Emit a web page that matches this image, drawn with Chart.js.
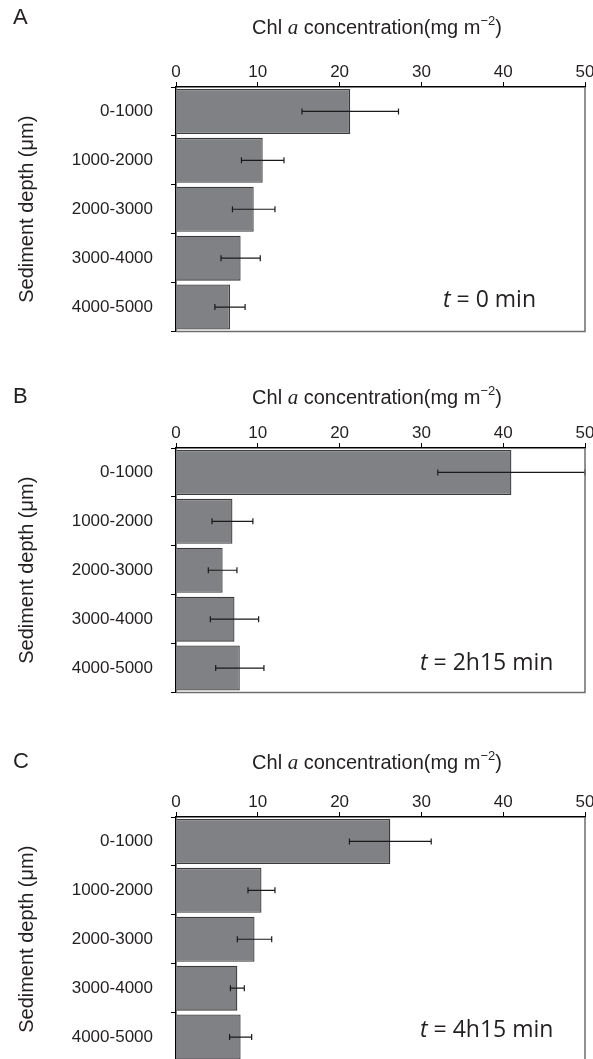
<!DOCTYPE html>
<html>
<head>
<meta charset="utf-8">
<script src="https://cdn.jsdelivr.net/npm/chart.js@4"></script>
<style>
  body { margin: 0; background: #fff; width: 593px; height: 1059px; overflow: hidden; position: relative; }
  .panel { position: absolute; left: 0; width: 593px; height: 340px; }
</style>
</head>
<body>
<div class="panel" style="top:0"><canvas id="chartA" width="593" height="340"></canvas></div>
<div class="panel" style="top:361px"><canvas id="chartB" width="593" height="340"></canvas></div>
<div class="panel" style="top:730px"><canvas id="chartC" width="593" height="340"></canvas></div>
<script>
// data
const depths = ['0-1000', '1000-2000', '2000-3000', '3000-4000', '4000-5000'];
const xTicks = [0, 10, 20, 30, 40, 50];

const chlA = [21.3, 10.6, 9.5, 7.9, 6.6];
const errA = [5.9, 2.6, 2.6, 2.4, 1.85];

const chlB = [41.0, 6.9, 5.7, 7.15, 7.8];
const errB = [9.0, 2.5, 1.75, 2.95, 2.95];

const chlC = [26.2, 10.45, 9.6, 7.5, 7.9];
const errC = [5.0, 1.65, 2.1, 0.85, 1.35];

const panels = [
  { id: 'chartA', letter: 'A', time: '0 min', values: chlA, errors: errA, letterY: 18, titleY: 28, timeX: 443, timeY: 300 },
  { id: 'chartB', letter: 'B', time: '2h15 min', values: chlB, errors: errB, letterY: 36, titleY: 37, timeX: 420, timeY: 302 },
  { id: 'chartC', letter: 'C', time: '4h15 min', values: chlC, errors: errC, letterY: 32, titleY: 33, timeX: 420, timeY: 300 }
];

const sans = "'Liberation Sans', Arial, Helvetica, sans-serif";
const ink = '#231f20';

// error bars, frame and panel texts
const decorations = {
  id: 'decorations',
  afterDatasetsDraw(chart, args, opts) {
    const ctx = chart.ctx;
    const x = chart.scales.x;
    const area = chart.chartArea;
    const meta = chart.getDatasetMeta(0);
    ctx.save();
    ctx.strokeStyle = '#1a1a1a';
    ctx.lineWidth = 1.2;
    meta.data.forEach((bar, i) => {
      const v = opts.values[i], e = opts.errors[i];
      const x1 = x.getPixelForValue(v - e), x2 = x.getPixelForValue(Math.min(v + e, 50));
      const y = bar.y;
      ctx.beginPath();
      ctx.moveTo(x1, y); ctx.lineTo(x2, y);
      ctx.moveTo(x1, y - 3); ctx.lineTo(x1, y + 3);
      ctx.moveTo(x2, y - 3); ctx.lineTo(x2, y + 3);
      ctx.stroke();
    });
    // right and bottom frame
    ctx.strokeStyle = '#6d6d6d';
    ctx.lineWidth = 1.5;
    ctx.beginPath();
    ctx.moveTo(area.right, area.top); ctx.lineTo(area.right, area.bottom);
    ctx.lineTo(area.left, area.bottom);
    ctx.stroke();
    ctx.restore();
  },
  afterDraw(chart, args, opts) {
    const ctx = chart.ctx;
    ctx.save();
    ctx.fillStyle = ink;
    ctx.textBaseline = 'middle';
    // panel letter
    ctx.font = '22px ' + sans;
    ctx.textAlign = 'left';
    ctx.fillText(opts.letter, 13, opts.letterY);
    // axis title with italic a and superscript
    const parts = [
      { t: 'Chl ', f: '20px ' + sans, dy: 0 },
      { t: 'a', f: 'italic 21px "Liberation Serif", "Times New Roman", serif', dy: 0 },
      { t: ' concentration', f: '20px ' + sans, dy: 0 },
      { t: '(mg m', f: '20px ' + sans, dy: 0 },
      { t: '\u22122', f: '13px ' + sans, dy: -7 },
      { t: ')', f: '20px ' + sans, dy: 0 }
    ];
    let total = 0;
    parts.forEach(p => { ctx.font = p.f; p.w = ctx.measureText(p.t).width; total += p.w; });
    let cx = 377 - total / 2;
    parts.forEach(p => { ctx.font = p.f; ctx.fillText(p.t, cx, opts.titleY + p.dy); cx += p.w; });
    // time label
    ctx.font = "italic 23px 'Open Sans', sans-serif";
    const tw = ctx.measureText('t').width;
    ctx.fillText('t', opts.timeX, opts.timeY);
    ctx.font = "23px 'Open Sans', sans-serif";
    ctx.fillText(' = ' + opts.time, opts.timeX + tw, opts.timeY);
    ctx.restore();
  }
};

panels.forEach(p => {
  new Chart(document.getElementById(p.id), {
    type: 'bar',
    data: {
      labels: depths,
      datasets: [{
        data: p.values,
        backgroundColor: '#808184',
        borderColor: '#3a3a3a',
        borderWidth: 1.3,
        barPercentage: 0.92,
        categoryPercentage: 1.0
      }]
    },
    options: {
      indexAxis: 'y',
      responsive: false,
      animation: false,
      layout: { padding: { left: 14, right: 8, top: 0, bottom: 8.5 } },
      plugins: {
        legend: { display: false },
        tooltip: { enabled: false },
        decorations: { letter: p.letter, time: p.time, values: p.values, errors: p.errors,
          letterY: p.letterY, titleY: p.titleY, timeX: p.timeX, timeY: p.timeY }
      },
      scales: {
        x: {
          position: 'top',
          min: 0,
          max: 50,
          afterBuildTicks: s => { s.ticks = xTicks.map(v => ({ value: v })); },
          afterFit: s => { s.height = 87; s.paddingLeft = 0; s.paddingRight = 0; },
          ticks: { font: { size: 17, family: sans }, color: ink, padding: -1, maxRotation: 0 },
          grid: { drawOnChartArea: false, drawTicks: true, tickLength: 5, color: '#000', lineWidth: 1 },
          border: { color: '#000', width: 1.5 }
        },
        y: {
          afterFit: s => { s.width = 162; s.paddingTop = 0; s.paddingBottom = 0; },
          ticks: { font: { size: 17, family: sans }, color: ink, padding: 18 },
          grid: { drawOnChartArea: false, drawTicks: true, tickLength: 5, color: '#000', lineWidth: 1 },
          border: { color: '#000', width: 1.5 },
          title: { display: true, text: 'Sediment depth (μm)', font: { size: 20, family: sans }, color: ink, padding: { top: 1, bottom: 0 } }
        }
      }
    },
    plugins: [decorations]
  });
});
</script>
</body>
</html>
